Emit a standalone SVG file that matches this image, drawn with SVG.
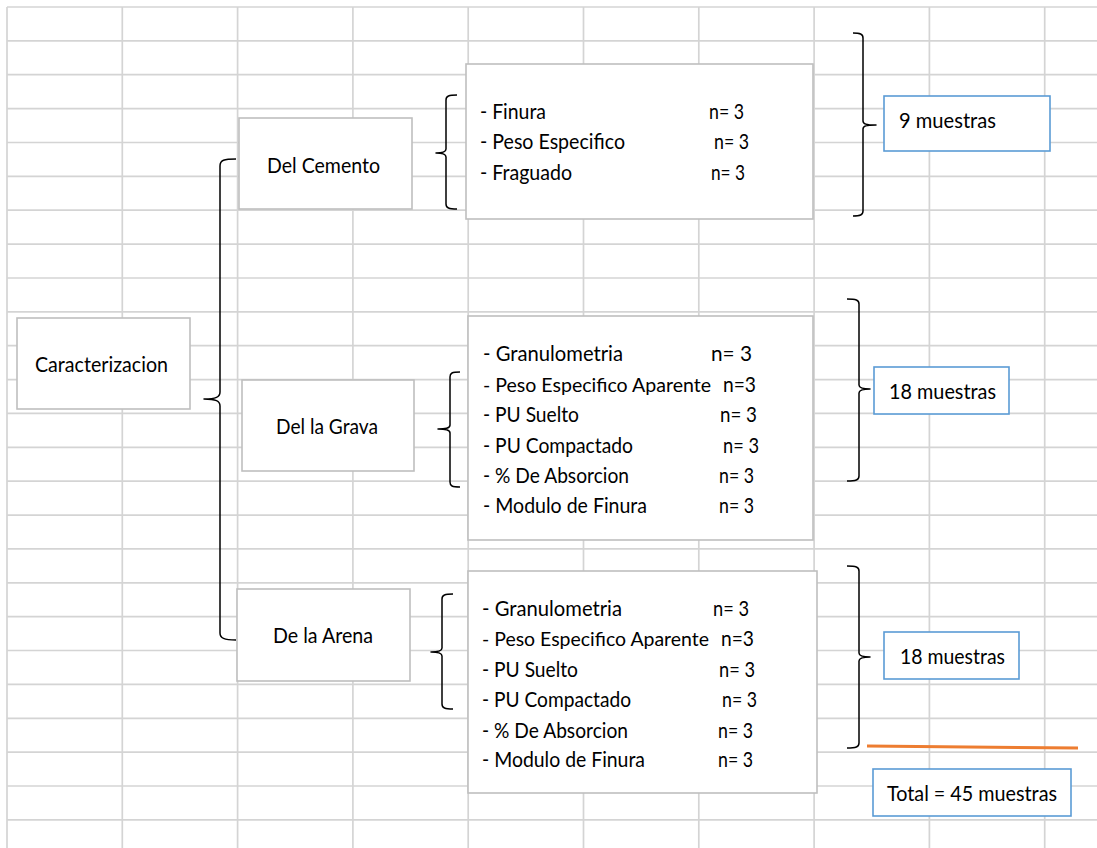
<svg xmlns="http://www.w3.org/2000/svg" width="1097" height="848" viewBox="0 0 1097 848">
  <style>
    .grid line { stroke: #d4d4d4; stroke-width: 1.7; }
    .box { fill: #ffffff; stroke: #bfbfbf; stroke-width: 1.6; }
    .sum { fill: #ffffff; stroke: #5b9bd5; stroke-width: 1.6; }
    .brace { fill: none; stroke: #000000; stroke-width: 1.5; stroke-linejoin: round; }
    text { font-family: Lato, "Liberation Sans", sans-serif; font-size: 21px; fill: #000000; }
    text.long { font-size: 19.5px; }
  </style>

  <rect x="0" y="0" width="1097" height="848" fill="#ffffff"/>

  <!-- spreadsheet grid -->
  <g class="grid">
    <line x1="7" y1="7" x2="7" y2="848"/>
    <line x1="122.3" y1="7" x2="122.3" y2="848"/>
    <line x1="237.6" y1="7" x2="237.6" y2="848"/>
    <line x1="352.9" y1="7" x2="352.9" y2="848"/>
    <line x1="468.2" y1="7" x2="468.2" y2="848"/>
    <line x1="583.5" y1="7" x2="583.5" y2="848"/>
    <line x1="698.8" y1="7" x2="698.8" y2="848"/>
    <line x1="814.1" y1="7" x2="814.1" y2="848"/>
    <line x1="929.4" y1="7" x2="929.4" y2="848"/>
    <line x1="1044.7" y1="7" x2="1044.7" y2="848"/>
    <line x1="7" y1="7" x2="1097" y2="7"/>
    <line x1="7" y1="40.9" x2="1097" y2="40.9"/>
    <line x1="7" y1="74.7" x2="1097" y2="74.7"/>
    <line x1="7" y1="108.6" x2="1097" y2="108.6"/>
    <line x1="7" y1="142.5" x2="1097" y2="142.5"/>
    <line x1="7" y1="176.4" x2="1097" y2="176.4"/>
    <line x1="7" y1="210.2" x2="1097" y2="210.2"/>
    <line x1="7" y1="244.1" x2="1097" y2="244.1"/>
    <line x1="7" y1="278" x2="1097" y2="278"/>
    <line x1="7" y1="311.8" x2="1097" y2="311.8"/>
    <line x1="7" y1="345.7" x2="1097" y2="345.7"/>
    <line x1="7" y1="379.6" x2="1097" y2="379.6"/>
    <line x1="7" y1="413.4" x2="1097" y2="413.4"/>
    <line x1="7" y1="447.3" x2="1097" y2="447.3"/>
    <line x1="7" y1="481.2" x2="1097" y2="481.2"/>
    <line x1="7" y1="515.1" x2="1097" y2="515.1"/>
    <line x1="7" y1="548.9" x2="1097" y2="548.9"/>
    <line x1="7" y1="582.8" x2="1097" y2="582.8"/>
    <line x1="7" y1="616.7" x2="1097" y2="616.7"/>
    <line x1="7" y1="650.5" x2="1097" y2="650.5"/>
    <line x1="7" y1="684.4" x2="1097" y2="684.4"/>
    <line x1="7" y1="718.3" x2="1097" y2="718.3"/>
    <line x1="7" y1="752.2" x2="1097" y2="752.2"/>
    <line x1="7" y1="786" x2="1097" y2="786"/>
    <line x1="7" y1="819.9" x2="1097" y2="819.9"/>
  </g>

  <!-- braces joining the levels -->
  <g id="connectors" class="brace">
    <path d="M236,159 C224,159 220,160 220,166 V392 C220,397 216,399 204,399 C216,399 220,401 220,406 V633 C220,638 224,640 236,640"/>
    <path d="M457,95 C449,95 446,96 446,100 V149 C446,152 443,153 436,153 C443,153 446,154 446,157 V204 C446,208 449,209 457,209"/>
    <path d="M460,372 C452,372 450,373 450,377 V425 C450,428 447,429 438,429 C447,429 450,430 450,433 V482 C450,486 452,487 460,487"/>
    <path d="M453,594 C445,594 442,595 442,599 V648 C442,651 439,652 431,652 C439,652 442,653 442,656 V704 C442,708 445,709 453,709"/>
    <path d="M853,33 C860,33 863,34 863,38 V121 C863,124 866,125 876,125 C866,125 863,126 863,129 V211 C863,215 860,216 853,216"/>
    <path d="M847,299 C856,299 859,300 859,304 V385 C859,388 862,389 870,389 C862,389 859,390 859,393 V476 C859,480 856,481 847,481"/>
    <path d="M847,566 C856,566 859,567 859,571 V653 C859,656 862,657 870,657 C862,657 859,658 859,661 V743 C859,747 856,748 847,748"/>
    <line x1="867" y1="746" x2="1078" y2="748" stroke="#ed7d31" stroke-width="3"/>
  </g>

  <g id="caracterizacion">
    <rect class="box" x="17" y="318" width="173" height="91"/>
    <text x="35" y="372" textLength="133" lengthAdjust="spacingAndGlyphs">Caracterizacion</text>
  </g>

  <g id="del-cemento">
    <rect class="box" x="239" y="118" width="173" height="91"/>
    <text x="267" y="173" textLength="113" lengthAdjust="spacingAndGlyphs">Del Cemento</text>
  </g>

  <g id="del-la-grava">
    <rect class="box" x="242" y="380" width="172" height="91"/>
    <text x="276" y="434" textLength="102" lengthAdjust="spacingAndGlyphs">Del la Grava</text>
  </g>

  <g id="de-la-arena">
    <rect class="box" x="237" y="589" width="173" height="92"/>
    <text x="273" y="643" textLength="100" lengthAdjust="spacingAndGlyphs">De la Arena</text>
  </g>

  <g id="ensayos-cemento">
    <rect class="box" x="466" y="64" width="347" height="155"/>
    <text x="480" y="119" textLength="66" lengthAdjust="spacingAndGlyphs">- Finura</text>
    <text x="709" y="119" textLength="35" lengthAdjust="spacingAndGlyphs">n= 3</text>
    <text x="480" y="149" textLength="145" lengthAdjust="spacingAndGlyphs">- Peso Especifico</text>
    <text x="714" y="149" textLength="35" lengthAdjust="spacingAndGlyphs">n= 3</text>
    <text x="480" y="180" textLength="92" lengthAdjust="spacingAndGlyphs">- Fraguado</text>
    <text x="711" y="180" textLength="34" lengthAdjust="spacingAndGlyphs">n= 3</text>
  </g>

  <g id="ensayos-grava">
    <rect class="box" x="468" y="316" width="345" height="224"/>
    <text x="483" y="361" textLength="140" lengthAdjust="spacingAndGlyphs">- Granulometria</text>
    <text x="711" y="361" textLength="41" lengthAdjust="spacingAndGlyphs">n= 3</text>
    <text class="long" x="483" y="392" textLength="228" lengthAdjust="spacingAndGlyphs">- Peso Especifico Aparente</text>
    <text x="723" y="392" textLength="33" lengthAdjust="spacingAndGlyphs">n=3</text>
    <text x="483" y="422" textLength="96" lengthAdjust="spacingAndGlyphs">- PU Suelto</text>
    <text x="720" y="422" textLength="37" lengthAdjust="spacingAndGlyphs">n= 3</text>
    <text x="483" y="453" textLength="150" lengthAdjust="spacingAndGlyphs">- PU Compactado</text>
    <text x="723" y="453" textLength="36" lengthAdjust="spacingAndGlyphs">n= 3</text>
    <text x="483" y="483" textLength="146" lengthAdjust="spacingAndGlyphs">- % De Absorcion</text>
    <text x="719" y="483" textLength="35" lengthAdjust="spacingAndGlyphs">n= 3</text>
    <text x="483" y="513" textLength="164" lengthAdjust="spacingAndGlyphs">- Modulo de Finura</text>
    <text x="719" y="513" textLength="35" lengthAdjust="spacingAndGlyphs">n= 3</text>
  </g>

  <g id="ensayos-arena">
    <rect class="box" x="468" y="571" width="349" height="222"/>
    <text x="482" y="616" textLength="140" lengthAdjust="spacingAndGlyphs">- Granulometria</text>
    <text x="713" y="616" textLength="36" lengthAdjust="spacingAndGlyphs">n= 3</text>
    <text class="long" x="482" y="646" textLength="227" lengthAdjust="spacingAndGlyphs">- Peso Especifico Aparente</text>
    <text x="721" y="646" textLength="33" lengthAdjust="spacingAndGlyphs">n=3</text>
    <text x="482" y="677" textLength="96" lengthAdjust="spacingAndGlyphs">- PU Suelto</text>
    <text x="719" y="677" textLength="36" lengthAdjust="spacingAndGlyphs">n= 3</text>
    <text x="482" y="707" textLength="149" lengthAdjust="spacingAndGlyphs">- PU Compactado</text>
    <text x="722" y="707" textLength="35" lengthAdjust="spacingAndGlyphs">n= 3</text>
    <text x="482" y="738" textLength="146" lengthAdjust="spacingAndGlyphs">- % De Absorcion</text>
    <text x="718" y="738" textLength="35" lengthAdjust="spacingAndGlyphs">n= 3</text>
    <text x="482" y="767" textLength="163" lengthAdjust="spacingAndGlyphs">- Modulo de Finura</text>
    <text x="718" y="767" textLength="35" lengthAdjust="spacingAndGlyphs">n= 3</text>
  </g>

  <g id="muestras-cemento">
    <rect class="sum" x="884" y="96" width="166" height="55"/>
    <text x="899" y="128" textLength="97" lengthAdjust="spacingAndGlyphs">9 muestras</text>
  </g>

  <g id="muestras-grava">
    <rect class="sum" x="874" y="367" width="135" height="47"/>
    <text x="889" y="399" textLength="107" lengthAdjust="spacingAndGlyphs">18 muestras</text>
  </g>

  <g id="muestras-arena">
    <rect class="sum" x="884" y="632" width="135" height="47"/>
    <text x="900" y="664" textLength="105" lengthAdjust="spacingAndGlyphs">18 muestras</text>
  </g>

  <g id="total">
    <rect class="sum" x="873" y="769" width="198" height="47"/>
    <text x="887" y="801" textLength="170" lengthAdjust="spacingAndGlyphs">Total = 45 muestras</text>
  </g>
</svg>
